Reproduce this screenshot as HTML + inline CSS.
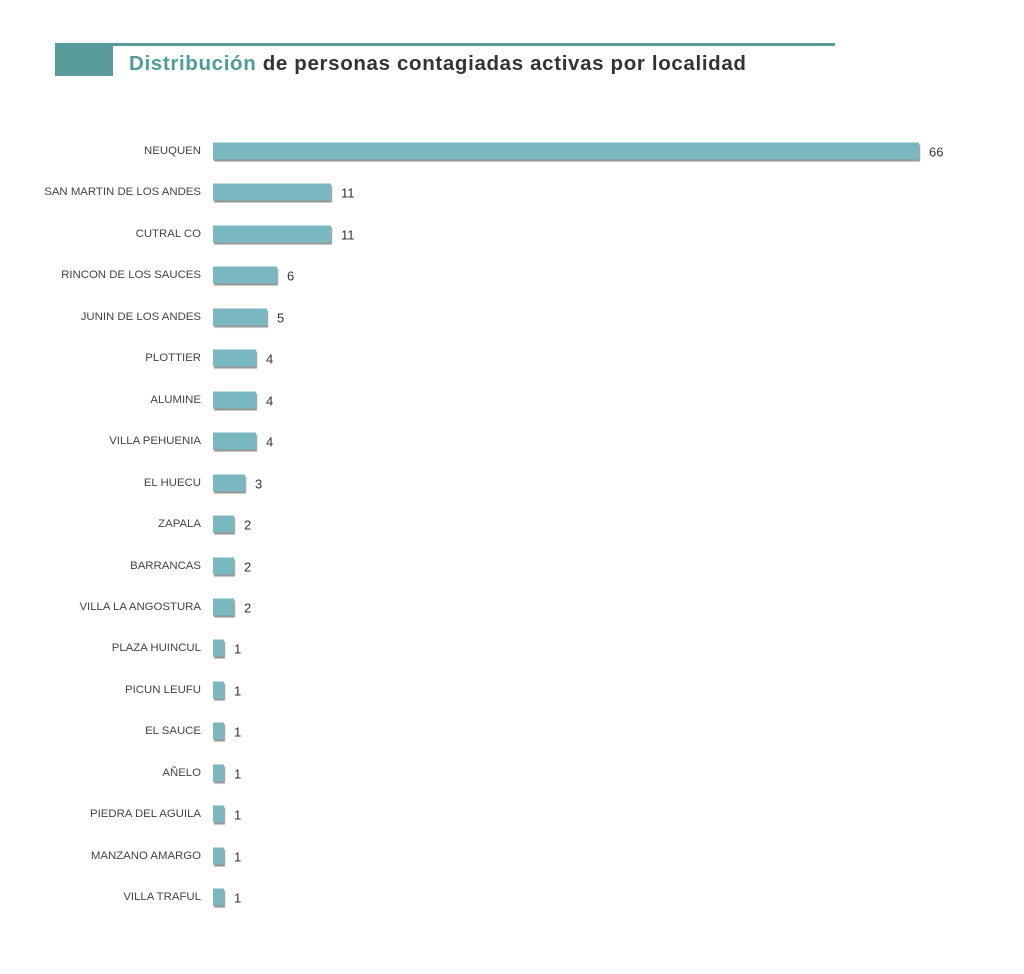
<!DOCTYPE html>
<html><head><meta charset="utf-8"><style>
body{margin:0;background:#fff;width:1024px;height:974px;position:relative;font-family:"Liberation Sans",sans-serif;overflow:hidden}
.hb{position:absolute;left:55px;top:43px;width:58px;height:33px;background:#5a9c9c}
.hl{position:absolute;left:113px;top:43px;width:722px;height:3px;background:#5a9c9c}
.t{position:absolute;left:129px;top:52px;font-size:20.5px;font-weight:bold;color:#333;white-space:nowrap;letter-spacing:0.65px}
.t span{color:#4f9c9a}
.l{position:absolute;right:823px;font-size:11.4px;color:#444;white-space:nowrap;transform:translateY(-50%)}
.b{position:absolute;left:213px;height:17px;background:#7ab8c1;box-shadow:1px 2px 1px rgba(60,60,60,.55);transform:translateY(-50%)}
.v{position:absolute;font-size:13px;color:#333;transform:translateY(-50%)}
</style></head><body>
<div class="hb"></div><div class="hl"></div>
<div class="t"><span>Distribución</span> de personas contagiadas activas por localidad</div>
<div id="c"></div>
<script>
var d=[["NEUQUEN",66],["SAN MARTIN DE LOS ANDES",11],["CUTRAL CO",11],["RINCON DE LOS SAUCES",6],["JUNIN DE LOS ANDES",5],["PLOTTIER",4],["ALUMINE",4],["VILLA PEHUENIA",4],["EL HUECU",3],["ZAPALA",2],["BARRANCAS",2],["VILLA LA ANGOSTURA",2],["PLAZA HUINCUL",1],["PICUN LEUFU",1],["EL SAUCE",1],["AÑELO",1],["PIEDRA DEL AGUILA",1],["MANZANO AMARGO",1],["VILLA TRAFUL",1]];
var h="";d.forEach(function(r,i){var y=151+i*41.45,w=Math.round(r[1]*10.7);
h+='<div class="l" style="top:'+y+'px">'+r[0]+'</div><div class="b" style="top:'+y+'px;width:'+w+'px"></div><div class="v" style="top:'+(y+1)+'px;left:'+(213+w+10)+'px">'+r[1]+'</div>';});
document.getElementById("c").innerHTML=h;
</script>
</body></html>
